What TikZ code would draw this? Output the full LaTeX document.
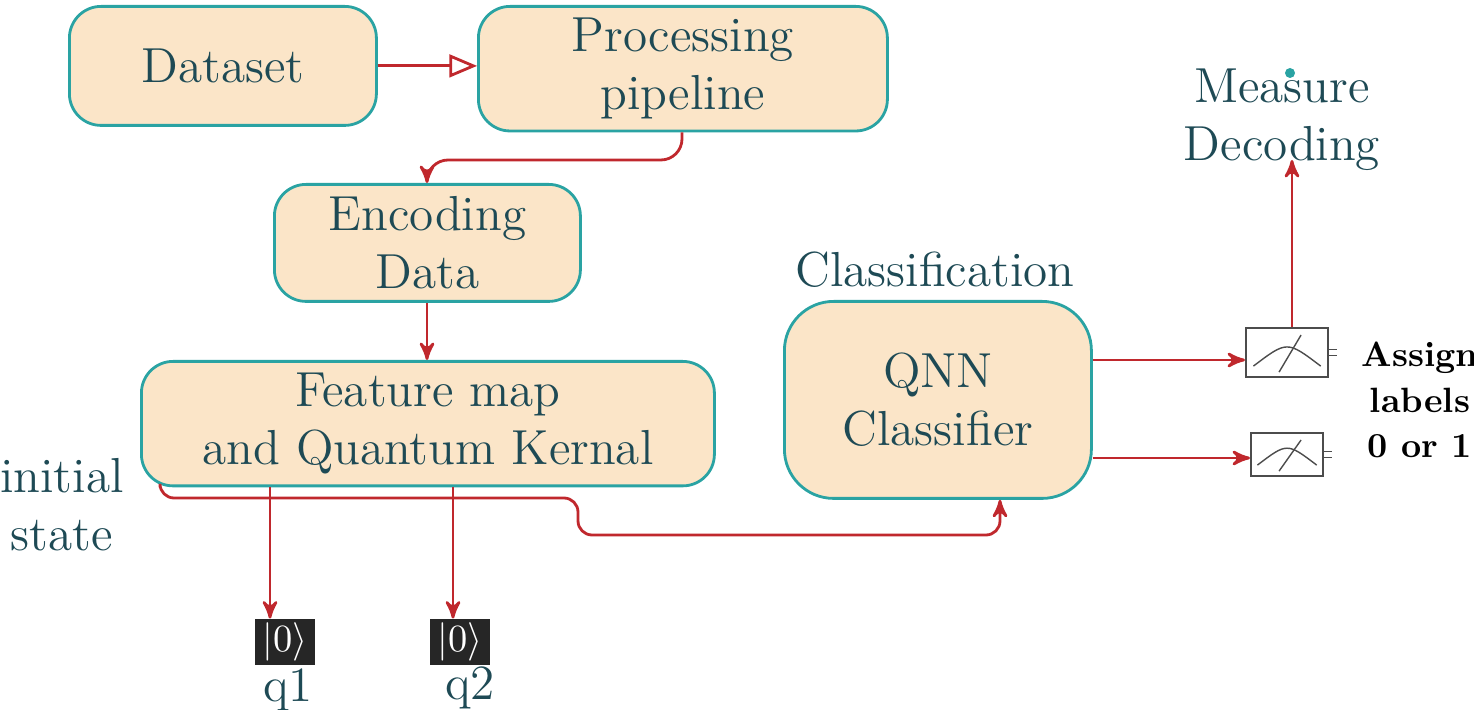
\documentclass[tikz,border=0pt]{standalone}
\usepackage{tikz}
\usetikzlibrary{arrows, calc, positioning}
\definecolor{boxfill}{HTML}{FBE5C8}
\definecolor{boxline}{HTML}{2AA3A3}
\definecolor{txt}{HTML}{1E4A55}
\definecolor{arr}{HTML}{C0282D}
\tikzset{->, >=stealth', font=\fontsize{14}{16.5}\selectfont}
\tikzset{block/.style={draw=boxline, fill=boxfill, rounded corners=9pt, thick,
    text=txt, align=center, anchor=north west},
  flow/.style={draw=arr, thick},
  meter/.style={draw=black!70, semithick, anchor=north west, inner sep=0pt},
  ket/.style={fill=black!85, text=white, inner sep=1pt, minimum width=6mm, minimum height=3.2mm,
    font=\fontsize{11}{12}\selectfont},
  lbl/.style={text=txt, align=center}}

\begin{document}
\begin{tikzpicture}[x=0.1mm,y=-0.1mm]
    \useasboundingbox (0,0) rectangle (1474,710);
    \node[block, minimum width=30.7mm, minimum height=11.9mm] (data) at (68,5) {Dataset};
    \node[block, minimum width=40.9mm, minimum height=11.9mm] (proc) at (477,5) {Processing\\pipeline};
    \node[block, minimum width=30.6mm, minimum height=11.7mm] (enc) at (273,183) {Encoding\\Data};
    \node[block, minimum width=57.3mm, minimum height=11.6mm] (feat) at (140,360) {Feature map\\and Quantum Kernal};
    \node[block, minimum width=30.7mm, minimum height=19.7mm, rounded corners=14pt] (qnn) at (783,300) {QNN\\Classifier};
    \node[meter, minimum width=8.2mm, minimum height=4.9mm] (m1) at (1245,327) {};
    \node[meter, minimum width=7.2mm, minimum height=4.3mm] (m2) at (1250,432) {};
    % meter dials
    \foreach \m in {m1, m2} {
      \draw[-, black!70] ($(\m.south west)!0.1!(\m.south east)+(0,-12)$)
        .. controls ($(\m.center)+(0,-12)$) .. ($(\m.south west)!0.9!(\m.south east)+(0,-12)$);
      \draw[-, black!70] ($(\m.south)+(-8,-6)$) -- ($(\m.north)+(14,8)$);
      \draw[-, black!70] ($(\m.east)+(0,-3)$) -- ++(8,0);
      \draw[-, black!70] ($(\m.east)+(0,3)$) -- ++(8,0);
    }
    \node[lbl] (meas) at (1282,120) {Measure\\Decoding};
    \fill[boxline] (1290,73) circle (5);
    \node[lbl] (cls) at (935,270) {Classification};
    \node[lbl] (init) at (62,505) {initial\\state};
    \node[align=center, font=\bfseries\fontsize{10}{13}\selectfont] (assign) at (1420,400) {Assign\\labels\\0 or 1};
    \node[ket] (k1) at (285,642) {$|0\rangle$};
    \node[ket] (k2) at (460,642) {$|0\rangle$};
    \node[lbl] (q1) at (288,690) {q1};
    \node[lbl] (q2) at (470,688) {q2};
    % connectors
    \draw[flow, -open triangle 45] (data.east) -- (proc.west |- data.east);
    \draw[flow, rounded corners=6pt] (proc.south -| 682,0) |- (427,160) -- (enc.north -| 427,0);
    \draw[flow] (enc.south -| 427,0) -- (feat.north -| 427,0);
    \draw[flow] (feat.south -| 270,0) -- (k1.north -| 270,0);
    \draw[flow] (feat.south -| 453,0) -- (k2.north -| 453,0);
    \draw[flow, rounded corners=4pt] (feat.south -| 160,0) -- (160,498) -- (578,498)
      -- (578,535) -- (1000,535) -- (qnn.south -| 1000,0);
    \draw[flow] (qnn.east |- 0,360) -- (m1.west |- 0,360);
    \draw[flow] (qnn.east |- 0,458) -- (m2.west |- 0,458);
    \draw[flow] (m1.north -| 1292,0) -- (1292,160);
\end{tikzpicture}
\end{document}
